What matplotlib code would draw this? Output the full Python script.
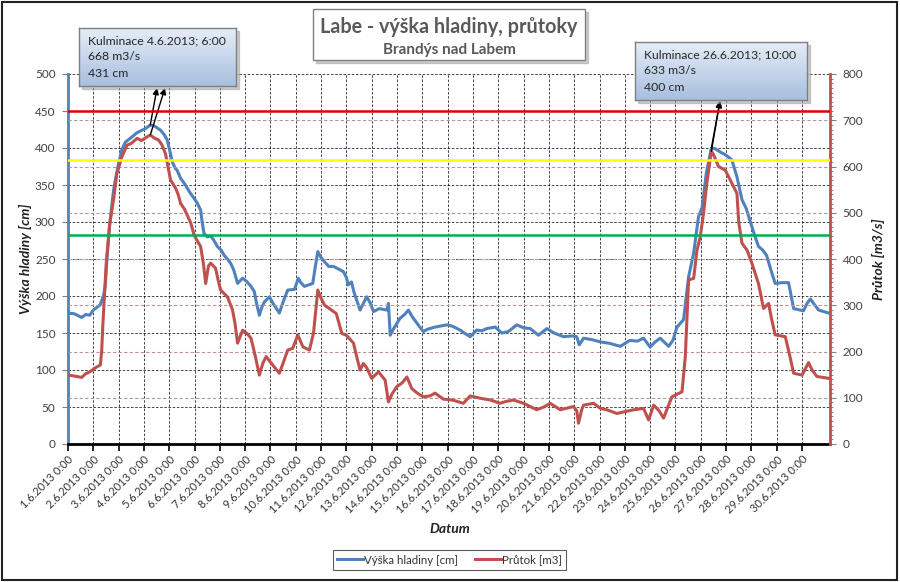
import numpy as np
import matplotlib
matplotlib.use("Agg")
import matplotlib.pyplot as plt
from matplotlib.patches import Rectangle
from matplotlib.lines import Line2D
from matplotlib.colors import LinearSegmentedColormap
from matplotlib.transforms import blended_transform_factory
from matplotlib.ticker import MultipleLocator

plt.rcParams["font.family"] = ["Lato", "DejaVu Sans"]

W, H = 900, 582

# x labels: one per day, June 2013
DAYS = [f"{d}.6.2013 0:00" for d in range(1, 31)]

# water level [cm] -- (days since 1.6.2013 0:00, value)
HLADINA_T = [0.0, 0.25, 0.54, 0.7, 0.86, 1.0, 1.27, 1.4, 1.47, 1.55, 1.64, 1.8, 1.9, 2.0,
             2.13, 2.27, 2.53, 2.7, 2.86, 3.05, 3.25, 3.4, 3.66, 3.8, 3.92, 4.05, 4.12,
             4.25, 4.31, 4.45, 4.6, 4.71, 4.85, 4.98, 5.1, 5.24, 5.3, 5.37, 5.5, 5.64,
             5.75, 5.9, 6.05, 6.17, 6.3, 6.43, 6.55, 6.7, 6.9, 7.05, 7.23, 7.36, 7.45,
             7.56, 7.66, 7.76, 7.96, 8.1, 8.35, 8.5, 8.68, 8.95, 9.1, 9.2, 9.34, 9.5,
             9.67, 9.75, 9.87, 10.0, 10.14, 10.3, 10.49, 10.6, 10.88, 11.0, 11.07, 11.2,
             11.3, 11.54, 11.8, 11.95, 12.07, 12.3, 12.6, 12.66, 12.73, 12.85, 13.12,
             13.3, 13.45, 13.6, 13.75, 13.9, 14.04, 14.2, 14.5, 14.97, 15.2, 15.49, 15.7,
             15.89, 16.15, 16.35, 16.55, 16.88, 17.14, 17.4, 17.73, 18.0, 18.26, 18.59,
             18.92, 19.2, 19.58, 19.9, 20.1, 20.2, 20.37, 20.7, 21.03, 21.4, 21.82, 22.2,
             22.5, 22.74, 23.0, 23.2, 23.4, 23.73, 23.9, 24.06, 24.32, 24.52, 24.72,
             24.91, 25.05, 25.22, 25.42, 25.57, 25.8, 25.97, 26.23, 26.43, 26.63, 26.8,
             26.96, 27.1, 27.28, 27.45, 27.6, 27.8, 27.94, 28.2, 28.47, 28.67, 29.06,
             29.2, 29.33, 29.5, 29.66, 30.05]
HLADINA = [177, 176, 171, 175, 174, 181, 188, 200, 213, 255, 294, 343, 362, 379,
           398, 408, 415, 420, 423, 426, 431, 430, 424, 418, 411, 392, 381,
           372, 370, 359, 352, 346, 338, 332, 326, 316, 300, 285, 280, 281,
           276, 267, 262, 255, 250, 244, 235, 217, 224, 220, 213, 206, 190,
           174, 185, 192, 199, 190, 177, 192, 208, 209, 224, 218, 213, 215,
           217, 235, 260, 252, 246, 240, 240, 238, 233, 225, 215, 219,
           205, 181, 199, 190, 179, 183, 181, 190, 147, 155, 170,
           175, 181, 172, 165, 158, 152, 155, 158, 161, 159, 154, 149,
           145, 154, 153, 156, 158, 150, 152, 161, 157, 156, 147,
           156, 150, 145, 146, 145, 134, 143, 141, 138, 136, 132, 140,
           139, 143, 131, 138, 143, 132, 140, 158, 168, 226, 258,
           307, 319, 366, 400, 399, 394, 391, 384, 361, 330, 318,
           300, 285, 267, 262, 255, 232, 217, 218, 218, 183, 180,
           190, 196, 188, 181, 177]

# discharge [m3/s]
PRUTOK_T = [0.0, 0.25, 0.54, 0.7, 0.86, 1.12, 1.28, 1.33, 1.38, 1.45, 1.51, 1.65, 1.8,
            1.93, 2.13, 2.33, 2.5, 2.73, 2.9, 3.12, 3.25, 3.4, 3.58, 3.7, 3.85, 3.95,
            4.05, 4.25, 4.35, 4.45, 4.6, 4.71, 4.85, 4.98, 5.1, 5.24, 5.35, 5.44, 5.55,
            5.64, 5.83, 5.95, 6.03, 6.3, 6.5, 6.6, 6.7, 6.9, 7.05, 7.23, 7.4, 7.56, 7.7,
            7.83, 8.1, 8.35, 8.5, 8.68, 8.88, 9.08, 9.28, 9.54, 9.7, 9.87, 10.0, 10.14,
            10.4, 10.6, 10.82, 11.0, 11.28, 11.4, 11.54, 11.67, 11.8, 12.0, 12.27, 12.53,
            12.66, 12.8, 12.99, 13.2, 13.39, 13.58, 13.8, 14.04, 14.3, 14.5, 14.83, 15.2,
            15.62, 15.89, 16.28, 16.7, 17.07, 17.3, 17.6, 18.0, 18.52, 18.8, 19.05,
            19.45, 19.97, 20.1, 20.17, 20.3, 20.37, 20.77, 21.03, 21.29, 21.69, 22.0,
            22.35, 22.74, 22.94, 23.14, 23.35, 23.53, 23.7, 23.86, 24.26, 24.39, 24.52,
            24.72, 24.85, 24.98, 25.11, 25.24, 25.42, 25.51, 25.7, 25.97, 26.23, 26.43,
            26.5, 26.63, 26.83, 27.02, 27.28, 27.48, 27.68, 27.8, 27.94, 28.34, 28.5,
            28.67, 29.0, 29.26, 29.4, 29.59, 30.05]
PRUTOK = [149, 147, 144, 152, 156, 166, 171, 200, 261, 330, 391, 477, 528,
          585, 621, 646, 650, 661, 656, 664, 668, 662, 657, 648, 628, 600,
          571, 553, 540, 520, 508, 495, 478, 452, 440, 427, 390, 347, 385,
          391, 380, 350, 333, 318, 290, 260, 218, 246, 240, 229, 190, 149, 175,
          189, 170, 153, 175, 203, 207, 236, 210, 203, 240, 333, 315, 300,
          290, 282, 239, 235, 218, 190, 160, 174, 165, 142, 156, 138,
          91, 108, 124, 132, 145, 120, 110, 102, 104, 110, 97, 95,
          88, 104, 99, 95, 88, 92, 95, 88, 74, 80, 88,
          74, 81, 72, 45, 75, 84, 88, 77, 74, 66, 70,
          74, 77, 52, 84, 72, 56, 80, 102, 113, 189, 355,
          358, 419, 448, 499, 564, 633, 625, 600, 592, 564, 542,
          480, 434, 419, 391, 347, 293, 304, 270, 236, 232, 195,
          153, 149, 176, 160, 146, 142]

# flood-stage levels [cm]
LIMITS = [282, 384, 450]
LIMIT_COLORS = ["#00b050", "#ffff00", "#e00000"]

# culminations: (day, cm, m3/s)
PEAKS = [(3.25, 431, 668), (25.42, 400, 633)]
NOTES = ["Kulminace 4.6.2013; 6:00\n668 m3/s\n431 cm",
         "Kulminace 26.6.2013; 10:00\n633 m3/s\n400 cm"]


def fx(px):
    return px / W


def fy(py):
    return 1 - py / H


fig = plt.figure(figsize=(W / 100, H / 100), dpi=100)
ax = fig.add_axes([fx(68), fy(444), (830 - 68) / W, (444 - 74) / H])
ax2 = ax.twinx()

BLUE, RED = "#4f81bd", "#c0504d"
ax.plot(HLADINA_T, HLADINA, color=BLUE, lw=2.2, zorder=3)
ax2.plot(PRUTOK_T, PRUTOK, color=RED, lw=2.2, zorder=3)

# limit lines in cm, drawn on top of both series
tr = blended_transform_factory(ax2.transAxes, ax.transData)
for v, c in zip(LIMITS, LIMIT_COLORS):
    ax2.add_line(Line2D([0, 1], [v, v], color=c, lw=1.8, transform=tr, zorder=5))

ax.set_xlim(0, 762 / 25.31)
ax.set_ylim(0, 500)
ax2.set_ylim(0, 800)

ax.set_xticks(np.arange(len(DAYS)))
ax.set_xticklabels(DAYS, rotation=45, ha="right", va="top", rotation_mode="anchor")
ax.yaxis.set_major_locator(MultipleLocator(50))
ax2.yaxis.set_major_locator(MultipleLocator(100))
ax2.yaxis.set_minor_locator(MultipleLocator(10))

ax.grid(True, color="black", linestyle=(0, (3, 2)), lw=0.6, alpha=0.85)
# right-axis grid (skip 0 and the top edge)
for t in ax2.get_yticks():
    if 0 < t < 800:
        ax2.axhline(t, color="#b89494", linestyle=(0, (3, 2)), lw=0.8, zorder=1)

for a in (ax, ax2):
    a.spines["top"].set_visible(False)
ax.spines["right"].set_visible(False)
ax2.spines["left"].set_visible(False)
ax2.spines["bottom"].set_visible(False)
ax.spines["left"].set_color(BLUE)
ax.spines["left"].set_linewidth(2)
ax.spines["bottom"].set_color("black")
ax.spines["bottom"].set_linewidth(2)
ax2.spines["right"].set_color(RED)
ax2.spines["right"].set_linewidth(2)

ax.tick_params(axis="x", length=5, width=1.2, color="black", labelsize=8,
               labelcolor="#333333", pad=2)
ax.tick_params(axis="y", length=4, color="#808080", labelsize=8.5,
               labelcolor="#404040", pad=5)
ax2.tick_params(axis="y", which="major", length=4, color="#808080", labelsize=8.5,
                labelcolor="#404040", pad=5)
ax2.tick_params(axis="y", which="minor", length=2, color=RED)

fig.text(fx(25), fy(259), "Výška hladiny [cm]", rotation=90, ha="center", va="center",
         fontsize=10, fontweight="bold", fontstyle="italic", color="#222222")
fig.text(fx(878), fy(259), "Průtok [m3/s]", rotation=90, ha="center", va="center",
         fontsize=10, fontweight="bold", fontstyle="italic", color="#222222")
fig.text(fx(450), fy(529), "Datum", ha="center", va="center",
         fontsize=10, fontweight="bold", fontstyle="italic", color="#222222")

# title box
fig.add_artist(Rectangle((fx(316), fy(63)), (585 - 313) / W, (60 - 9) / H,
                         transform=fig.transFigure, color="#9a9a9a", alpha=0.5, zorder=4))
fig.add_artist(Rectangle((fx(313), fy(60)), (585 - 313) / W, (60 - 9) / H,
                         transform=fig.transFigure, facecolor="white",
                         edgecolor="#808080", lw=1, zorder=4.5))
fig.text(fx(449), fy(27), "Labe - výška hladiny, průtoky", ha="center", va="center",
         fontsize=14.2, fontweight="bold", color="#595959", zorder=6)
fig.text(fx(449), fy(50), "Brandýs nad Labem", ha="center", va="center",
         fontsize=11, fontweight="bold", color="#595959", zorder=6)

# culmination notes
grad = LinearSegmentedColormap.from_list("note", ["#e6edf7", "#a8bfdf"])
boxes = [(79, 28, 236, 86), (635, 42, 807, 100)]
heads = [[(157, 88), (165, 88)], [(720, 101), (720, 101)]]
for (x0, y0, x1, y1), txt in zip(boxes, NOTES):
    fig.add_artist(Rectangle((fx(x0 + 3), fy(y1 + 3)), (x1 - x0) / W, (y1 - y0) / H,
                             transform=fig.transFigure, color="#9a9a9a", alpha=0.5,
                             zorder=4))
    bax = fig.add_axes([fx(x0), fy(y1), (x1 - x0) / W, (y1 - y0) / H], zorder=5)
    bax.imshow(np.linspace(0, 1, 64).reshape(-1, 1), aspect="auto", cmap=grad,
               extent=(0, 1, 0, 1))
    bax.set_xticks([])
    bax.set_yticks([])
    for s in bax.spines.values():
        s.set_color("#7f7f7f")
        s.set_linewidth(1)
    bax.text(0.055, 0.88, txt, transform=bax.transAxes, ha="left", va="top",
             fontsize=8.8, color="#262626", linespacing=1.6)

for (day, cm, q), hd in zip(PEAKS, heads):
    ax.annotate("", xy=(fx(hd[0][0]), fy(hd[0][1])), xycoords="figure fraction",
                xytext=(day, cm), textcoords="data",
                arrowprops=dict(arrowstyle="-|>", color="black", lw=1,
                                mutation_scale=9, shrinkA=0, shrinkB=0))
    ax2.annotate("", xy=(fx(hd[1][0]), fy(hd[1][1])), xycoords="figure fraction",
                 xytext=(day, q), textcoords="data",
                 arrowprops=dict(arrowstyle="-|>", color="black", lw=1,
                                 mutation_scale=9, shrinkA=0, shrinkB=0))

handles = [Line2D([], [], color=BLUE, lw=2.2), Line2D([], [], color=RED, lw=2.2)]
leg = fig.legend(handles, ["Výška hladiny [cm]", "Průtok [m3]"], loc="center",
                 bbox_to_anchor=(fx(449.5), fy(560)), ncol=2, fontsize=8.3,
                 frameon=True, fancybox=False, edgecolor="#333333",
                 handlelength=2.3, handletextpad=0.1, columnspacing=1.4,
                 borderpad=0.35)
leg.get_frame().set_linewidth(0.8)
for t in leg.get_texts():
    t.set_color("#333333")

# outer chart border
fig.add_artist(Rectangle((fx(2), fy(580)), (897 - 2) / W, (580 - 2) / H,
                         transform=fig.transFigure, fill=False, edgecolor="#222222",
                         lw=1.5, zorder=10))

fig.savefig("out.png", dpi=100)
